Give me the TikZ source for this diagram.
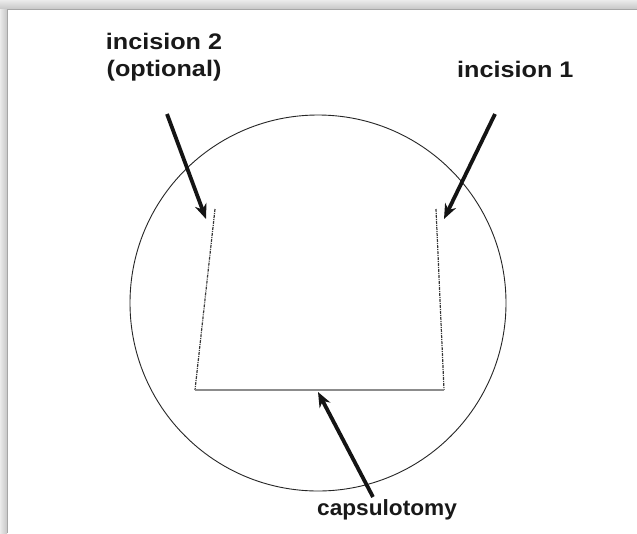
\documentclass[tikz,border=0pt]{standalone}
\usepackage{fontspec}
\setmainfont{Liberation Sans}
\newfontfamily\labfont[FakeStretch=1.12]{Liberation Sans Bold}
\newfontfamily\capfont[FakeStretch=1.03]{Liberation Sans Bold}
\usetikzlibrary{arrows.meta,shadings}
\begin{document}
\begin{tikzpicture}[x=1pt,y=-1pt,
 lab/.style={font=\labfont\fontsize{22.5}{27}\selectfont, text=black!90, inner sep=0pt, align=center},
 caplab/.style={font=\capfont\fontsize{22}{27}\selectfont, text=black!90, inner sep=0pt},
 pointer/.style={line width=3.8pt, black!92, -{Stealth[length=15pt,width=12pt]}},
 incision/.style={line width=1.2pt, black!78, dash pattern=on 3pt off 1pt on 1pt off 1pt},
 capline/.style={line width=1.2pt, black!45},
 eye/.style={draw, circle, line width=0.9pt, black!85, inner sep=0pt, minimum size=376pt}]
\useasboundingbox (0,0) rectangle (637,533);
% frame with shadow
\fill[black!14] (0,0) rectangle (637,533);
\shade[top color=black!8, bottom color=black!22] (0,0) rectangle (637,9);
\shade[left color=black!8, right color=black!22] (0,9) rectangle (7,533);
\fill[white] (7,9) rectangle (637,533);
\draw[black!35, line width=0.8pt] (7,533) -- (7,9) -- (637,9);

% eye outline
\node[eye] (eye) at (318,303) {};

% incisions and capsulotomy
\coordinate (lt) at (215,209);
\coordinate (lb) at (195,390);
\coordinate (rt) at (436,209);
\coordinate (rb) at (444,390);
\draw[incision] (lt) -- (lb);
\draw[incision] (rt) -- (rb);
\draw[capline] (lb) -- (rb);

% labels
\node[lab] (inc2) at (164,57) {incision 2\\(optional)};
\node[lab, anchor=base west] (inc1) at (457,77) {incision 1};
\node[caplab, anchor=base west] (caps) at (317,515) {capsulotomy};

% pointers
\coordinate (t2) at (167,114);
\coordinate (h2) at (206,219);
\coordinate (t1) at (495,114);
\coordinate (h1) at (444,219);
\coordinate (tc) at (373,497);
\coordinate (hc) at (318,392);
\draw[pointer] (t2) -- (h2);
\draw[pointer] (t1) -- (h1);
\draw[pointer] (tc) -- (hc);
\end{tikzpicture}
\end{document}
